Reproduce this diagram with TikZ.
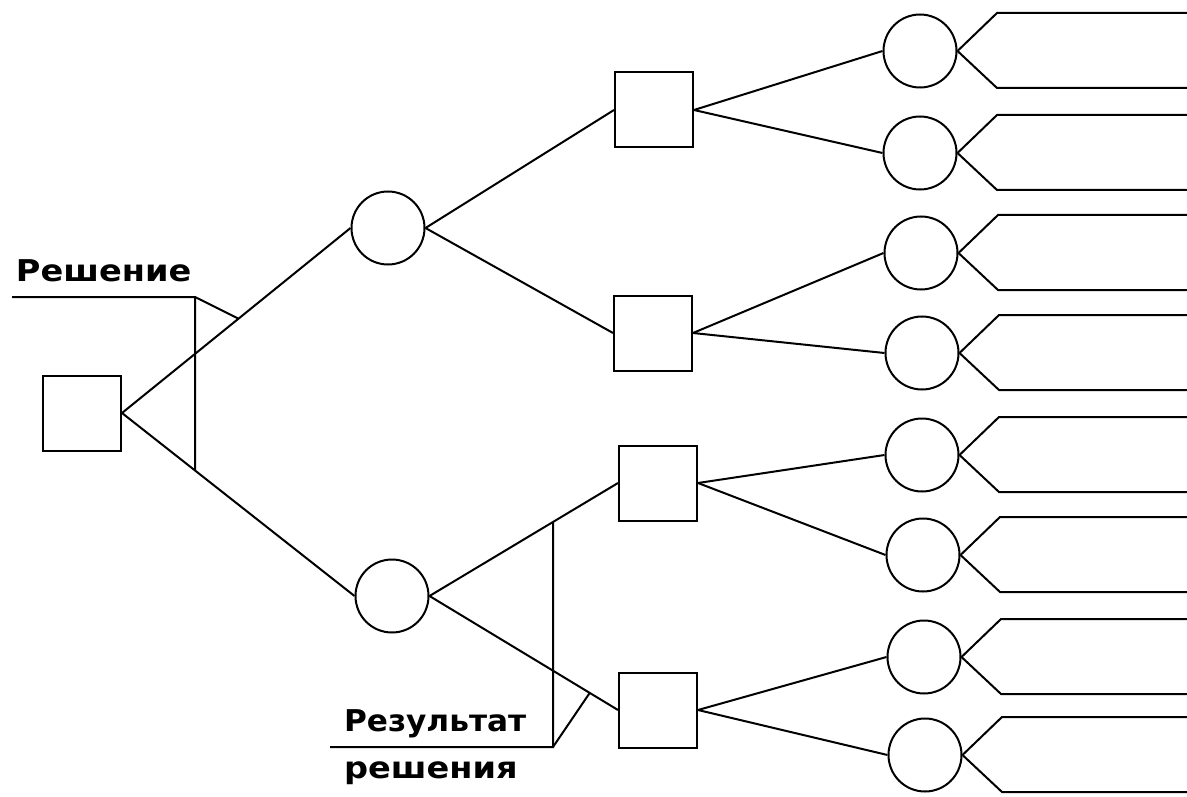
\documentclass[tikz,border=0pt]{standalone}
\usepackage{fontspec}
\setmainfont{DejaVu Sans}
\usetikzlibrary{calc}
\begin{document}
\begin{tikzpicture}[x=1pt,y=-1pt,
  line width=2pt,
  sq/.style={draw, rectangle, minimum width=78pt, minimum height=75pt, inner sep=0pt},
  cir/.style={draw, circle, minimum size=73pt, inner sep=0pt},
  lab/.style={font=\fontsize{30}{30}\selectfont\bfseries, inner sep=0pt, anchor=base west},
  conn/.style={line width=2pt}]
\useasboundingbox (0,0) rectangle (1187,797);
% nodes
\node[sq] (r) at (82,413) {};
\node[cir] (c1) at (388,228) {};
\node[cir] (c2) at (392,596) {};
\node[sq] (s1) at (654,110) {};
\node[sq] (s2) at (653,333) {};
\node[sq] (s3) at (658,483) {};
\node[sq] (s4) at (658,710) {};
\foreach \i/\x/\y in {1/920/51,2/920/153,3/921/253,4/922/353,5/922/455,6/923/555,7/924/657,8/925/755}{
  \node[cir] (e\i) at (\x,\y) {};
  \coordinate (u\i) at (\x+77,\y-38);
  \coordinate (d\i) at (\x+77,\y+37);
  \coordinate (ue\i) at (1187,\y-38);
  \coordinate (de\i) at (1187,\y+37);
  \draw[conn] (e\i.east) -- (u\i) -- (ue\i);
  \draw[conn] (e\i.east) -- (d\i) -- (de\i);
}
% connectors
\draw[conn] (r.east) -- (c1.west);
\draw[conn] (r.east) -- (c2.west);
\draw[conn] (c1.east) -- (s1.west);
\draw[conn] (c1.east) -- (s2.west);
\draw[conn] (c2.east) -- (s3.west);
\draw[conn] (c2.east) -- (s4.west);
\draw[conn] (s1.east) -- (e1.west);
\draw[conn] (s1.east) -- (e2.west);
\draw[conn] (s2.east) -- (e3.west);
\draw[conn] (s2.east) -- (e4.west);
\draw[conn] (s3.east) -- (e5.west);
\draw[conn] (s3.east) -- (e6.west);
\draw[conn] (s4.east) -- (e7.west);
\draw[conn] (s4.east) -- (e8.west);
% decision bracket
\coordinate (dl) at (12,297);
\coordinate (dt) at (195,297);
\coordinate (db) at (195,600);
\coordinate (dm) at ($(r.east)!0.51!(c1.west)$);
\draw[conn] (dl) -- (dt) -- (intersection of dt--db and r.east--c2.west);
\draw[conn] (dt) -- (dm);
\node[lab] (dec) at (15,281) {\scalebox{1.12}[1]{Решение}};
% result bracket
\coordinate (rl) at (330,747);
\coordinate (rb) at (553,747);
\coordinate (rt) at (553,300);
\coordinate (rm) at ($(c2.east)!0.85!(s4.west)$);
\draw[conn] (rl) -- (rb) -- (intersection of rb--rt and c2.east--s3.west);
\draw[conn] (rb) -- (rm);
\node[lab] (res1) at (343,731) {\scalebox{1.04}[1]{Результат}};
\node[lab] (res2) at (343,778) {\scalebox{1.12}[1]{решения}};
\end{tikzpicture}
\end{document}
